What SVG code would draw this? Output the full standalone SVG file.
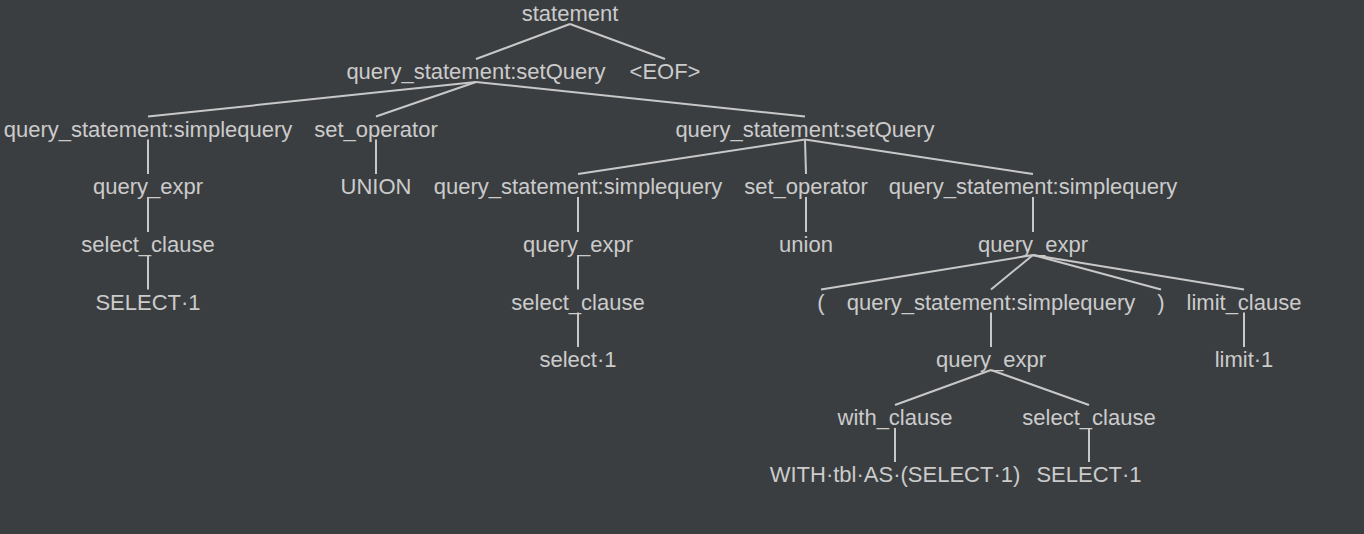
<svg xmlns="http://www.w3.org/2000/svg" width="1364" height="534" viewBox="0 0 1364 534">
<style>
text{font-family:"Liberation Sans",Arial,sans-serif;font-size:22px;fill:#cbcbcb;text-anchor:middle}
.e line{stroke:#c8c8c8;stroke-width:2}
</style>
<rect width="1364" height="534" fill="#3b3e41"/>
<g class="e" id="connectors">
<line x1="570" y1="24" x2="476" y2="59"/>
<line x1="570" y1="24" x2="665" y2="59"/>
<line x1="476" y1="82" x2="148" y2="116.5"/>
<line x1="476" y1="82" x2="376" y2="116.5"/>
<line x1="476" y1="82" x2="805" y2="116.5"/>
<line x1="148" y1="139.5" x2="148" y2="174"/>
<line x1="376" y1="139.5" x2="376" y2="174"/>
<line x1="805" y1="139.5" x2="578" y2="174"/>
<line x1="805" y1="139.5" x2="806" y2="174"/>
<line x1="805" y1="139.5" x2="1033" y2="174"/>
<line x1="148" y1="197" x2="148" y2="232"/>
<line x1="578" y1="197" x2="578" y2="232"/>
<line x1="806" y1="197" x2="806" y2="232"/>
<line x1="1033" y1="197" x2="1033" y2="232"/>
<line x1="148" y1="255" x2="148" y2="289.5"/>
<line x1="578" y1="255" x2="578" y2="289.5"/>
<line x1="1033" y1="255" x2="821" y2="289.5"/>
<line x1="1033" y1="255" x2="991" y2="289.5"/>
<line x1="1033" y1="255" x2="1161" y2="289.5"/>
<line x1="1033" y1="255" x2="1244" y2="289.5"/>
<line x1="578" y1="312.5" x2="578" y2="347"/>
<line x1="991" y1="312.5" x2="991" y2="347"/>
<line x1="1244" y1="312.5" x2="1244" y2="347"/>
<line x1="991" y1="370" x2="895" y2="405"/>
<line x1="991" y1="370" x2="1089" y2="405"/>
<line x1="895" y1="428" x2="895" y2="462"/>
<line x1="1089" y1="428" x2="1089" y2="462"/>
</g>
<g id="n1"><text x="570" y="21">statement</text></g>
<g id="n2"><text x="476" y="79">query_statement:setQuery</text></g>
<g id="n3"><text x="665" y="79">&lt;EOF&gt;</text></g>
<g id="n4"><text x="148" y="136.5">query_statement:simplequery</text></g>
<g id="n5"><text x="376" y="136.5">set_operator</text></g>
<g id="n6"><text x="805" y="136.5">query_statement:setQuery</text></g>
<g id="n7"><text x="148" y="194">query_expr</text></g>
<g id="n8"><text x="376" y="194">UNION</text></g>
<g id="n9"><text x="578" y="194">query_statement:simplequery</text></g>
<g id="n10"><text x="806" y="194">set_operator</text></g>
<g id="n11"><text x="1033" y="194">query_statement:simplequery</text></g>
<g id="n12"><text x="148" y="252">select_clause</text></g>
<g id="n13"><text x="578" y="252">query_expr</text></g>
<g id="n14"><text x="806" y="252">union</text></g>
<g id="n15"><text x="1033" y="252">query_expr</text></g>
<g id="n16"><text x="148" y="309.5">SELECT·1</text></g>
<g id="n17"><text x="578" y="309.5">select_clause</text></g>
<g id="n18"><text x="821" y="309.5">(</text></g>
<g id="n19"><text x="991" y="309.5">query_statement:simplequery</text></g>
<g id="n20"><text x="1161" y="309.5">)</text></g>
<g id="n21"><text x="1244" y="309.5">limit_clause</text></g>
<g id="n22"><text x="578" y="367">select·1</text></g>
<g id="n23"><text x="991" y="367">query_expr</text></g>
<g id="n24"><text x="1244" y="367">limit·1</text></g>
<g id="n25"><text x="895" y="425">with_clause</text></g>
<g id="n26"><text x="1089" y="425">select_clause</text></g>
<g id="n27"><text x="895" y="482">WITH·tbl·AS·(SELECT·1)</text></g>
<g id="n28"><text x="1089" y="482">SELECT·1</text></g>
</svg>
